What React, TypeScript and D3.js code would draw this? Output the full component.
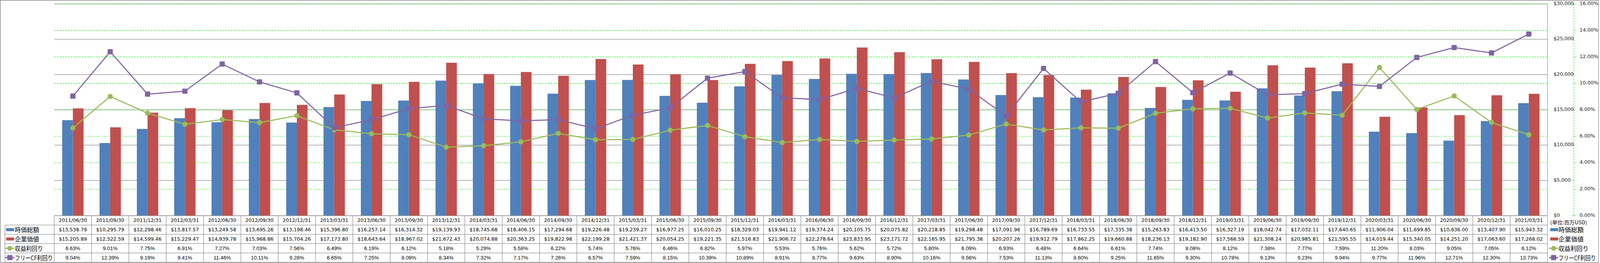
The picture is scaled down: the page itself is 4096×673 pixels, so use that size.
import * as d3 from 'd3';

const dates = [
  '2011/06/30', '2011/09/30', '2011/12/31', '2012/03/31', '2012/06/30', '2012/09/30', '2012/12/31', '2013/03/31',
  '2013/06/30', '2013/09/30', '2013/12/31', '2014/03/31', '2014/06/30', '2014/09/30', '2014/12/31', '2015/03/31',
  '2015/06/30', '2015/09/30', '2015/12/31', '2016/03/31', '2016/06/30', '2016/09/30', '2016/12/31', '2017/03/31',
  '2017/06/30', '2017/09/30', '2017/12/31', '2018/03/31', '2018/06/30', '2018/09/30', '2018/12/31', '2019/03/31',
  '2019/06/30', '2019/09/30', '2019/12/31', '2020/03/31', '2020/06/30', '2020/09/30', '2020/12/31', '2021/03/31',
];

// 時価総額 (百万USD)
const marketCap = [
  13538.79, 10295.79, 12298.46, 13817.57, 13249.58, 13695.26, 13198.46, 15396.8,
  16257.14, 16314.32, 19139.93, 18745.68, 18406.15, 17294.68, 19226.48, 19239.27,
  16977.25, 16010.25, 18329.03, 19941.12, 19374.24, 20105.75, 20075.82, 20218.85,
  19298.48, 17091.96, 16789.69, 16733.55, 17335.38, 15263.83, 16413.5, 16327.19,
  18042.74, 17032.11, 17640.65, 11906.04, 11699.85, 10636.0, 13407.9, 15943.32,
];

// 企業価値 (百万USD)
const enterpriseValue = [
  15205.89, 12522.59, 14599.46, 15229.47, 14939.78, 15968.86, 15704.26, 17173.8,
  18643.64, 18967.02, 21672.43, 20074.88, 20363.25, 19822.98, 22199.28, 21421.37,
  20054.25, 19221.35, 21516.83, 21906.72, 22278.64, 23833.95, 23171.72, 22165.95,
  21795.38, 20207.26, 19912.79, 17862.25, 19660.88, 18236.13, 19182.9, 17566.59,
  21308.24, 20985.81, 21595.55, 14019.44, 15340.05, 14251.2, 17063.6, 17268.02,
];

// 収益利回り (%)
const earningsYield = [
  6.63, 9.01, 7.75, 6.91, 7.27, 7.03, 7.56, 6.49,
  6.19, 6.12, 5.18, 5.29, 5.58, 6.22, 5.74, 5.76,
  6.46, 6.82, 5.97, 5.53, 5.76, 5.62, 5.72, 5.8,
  6.09, 6.93, 6.48, 6.64, 6.61, 7.74, 8.08, 8.12,
  7.38, 7.77, 7.59, 11.2, 8.03, 9.05, 7.05, 6.12,
];

// フリーCF利回り (%)
const fcfYield = [
  9.04, 12.39, 9.19, 9.41, 11.46, 10.11, 9.28, 6.65,
  7.25, 8.09, 8.34, 7.32, 7.17, 7.26, 6.57, 7.59,
  8.15, 10.39, 10.89, 8.91, 8.77, 9.63, 8.9, 10.16,
  9.56, 7.53, 11.13, 8.6, 9.25, 11.65, 9.3, 10.78,
  9.13, 9.23, 9.94, 9.77, 11.96, 12.71, 12.3, 13.73,
];

const dollarTicks = [0, 5000, 10000, 15000, 20000, 25000, 30000];
const pctTicks = [0, 2, 4, 6, 8, 10, 12, 14, 16];

const seriesNames = ['時価総額', '企業価値', '収益利回り', 'フリーCF利回り'];
const seriesColors = ['#4F81BD', '#C0504D', '#9BBB59', '#8064A2'];

const SCALE = 0.784;
const W = 5221;
const H = 858;
const plotL = 177;
const plotR = 5053;
const plotT = 13;
const plotB = 704;
const tableB = 856;

const CJK = "'Noto Sans CJK JP', sans-serif";
const WIDE = "'DejaVu Sans', Verdana, sans-serif";
const NUM = "'Liberation Sans', Arial, sans-serif";
const GRID = '#878787';
const BORDER = '#8f8f8f';
const GREEN_DASH = '#00ee00';

function LineKey({ x, y, color, square }: { x: number; y: number; color: string; square: boolean }) {
  return (
    <g>
      <line x1={x} x2={x + 30} y1={y} y2={y} stroke={color} strokeWidth={4} />
      {square ? (
        <rect x={x + 15 - 8.5} y={y - 8.5} width={17} height={17} rx={2.5} fill={color} />
      ) : (
        <circle cx={x + 15} cy={y} r={8} fill={color} />
      )}
    </g>
  );
}

export default function App() {
  const xCat = d3.scaleBand<string>().domain(dates).range([plotL, plotR]);
  const step = xCat.step();
  const xBar = d3.scaleBand<string>().domain(dates).range([plotL, plotR])
    .paddingInner(1.5 / 3.5).paddingOuter(0.75 / 3.5);
  const xSub = d3.scaleBand<string>().domain(['mcap', 'ev']).range([0, xBar.bandwidth()]);
  const yDollar = d3.scaleLinear().domain([0, 30000]).range([plotB, plotT]);
  const yPct = d3.scaleLinear().domain([0, 16]).range([plotB, plotT]);

  const rowKeys = ['date', 'mcap', 'ev', 'ey', 'fcf'];
  const yRow = d3.scaleBand<string>().domain(rowKeys).range([plotB, tableB]);
  const rowMid = (k: string) => (yRow(k) as number) + yRow.bandwidth() / 2;

  const cx = (d: string) => (xCat(d) as number) + step / 2;

  const lineGen = d3.line<number>()
    .x((_, i) => cx(dates[i]))
    .y((v) => yPct(v));

  const fmtDollar = d3.format('$,.2f');
  const fmtPct = (v: number) => v.toFixed(2) + '%';

  const rows: { key: string; values: string[] }[] = [
    { key: 'date', values: dates },
    { key: 'mcap', values: marketCap.map(fmtDollar) },
    { key: 'ev', values: enterpriseValue.map(fmtDollar) },
    { key: 'ey', values: earningsYield.map(fmtPct) },
    { key: 'fcf', values: fcfYield.map(fmtPct) },
  ];

  const headerLens = [79, 79, 92, 124];
  const legendLens = [82, 82, 98, 122];
  const seriesRows = ['mcap', 'ev', 'ey', 'fcf'];

  return (
    <svg
      width={W * SCALE}
      height={H * SCALE}
      viewBox={`0 0 ${W} ${H}`}
      style={{ position: 'absolute', left: 0, top: 0, background: '#fff' }}
    >
      <rect x={0} y={0} width={W} height={H} fill="#fff" />
      <rect x={1} y={1} width={W - 2} height={H - 2} fill="none" stroke={BORDER} strokeWidth={2} />

      {/* gridlines */}
      {dollarTicks.map((t) => (
        <line key={'gd' + t} x1={plotL} x2={plotR} y1={yDollar(t)} y2={yDollar(t)} stroke={GRID} strokeWidth={1.6} />
      ))}
      {pctTicks.filter((t) => t > 0).map((t) => (
        <line key={'gp' + t} x1={plotL} x2={plotR} y1={yPct(t)} y2={yPct(t)} stroke={GREEN_DASH} strokeWidth={1.4} strokeDasharray="5,4" />
      ))}

      {/* bars */}
      {dates.map((d, i) => (
        <g key={'b' + d} transform={`translate(${xBar(d)},0)`}>
          <rect x={xSub('mcap')} y={yDollar(marketCap[i])} width={xSub.bandwidth()} height={plotB - yDollar(marketCap[i])} fill={seriesColors[0]} />
          <rect x={xSub('ev')} y={yDollar(enterpriseValue[i])} width={xSub.bandwidth()} height={plotB - yDollar(enterpriseValue[i])} fill={seriesColors[1]} />
        </g>
      ))}

      {/* plot right border */}
      <line x1={plotR} x2={plotR} y1={plotT} y2={tableB} stroke={BORDER} strokeWidth={1.6} />

      {/* lines */}
      <path d={lineGen(earningsYield) as string} fill="none" stroke={seriesColors[2]} strokeWidth={3.5} strokeLinejoin="round" />
      {earningsYield.map((v, i) => (
        <circle key={'ec' + i} cx={cx(dates[i])} cy={yPct(v)} r={8.5} fill={seriesColors[2]} />
      ))}
      <path d={lineGen(fcfYield) as string} fill="none" stroke={seriesColors[3]} strokeWidth={3.5} strokeLinejoin="round" />
      {fcfYield.map((v, i) => (
        <rect key={'fr' + i} x={cx(dates[i]) - 8.5} y={yPct(v) - 8.5} width={17} height={17} rx={2.5} fill={seriesColors[3]} />
      ))}

      {/* right axes */}
      <line x1={5139} x2={5139} y1={plotT} y2={plotB} stroke={GREEN_DASH} strokeWidth={1.5} strokeDasharray="5,4" />
      {dollarTicks.map((t) => (
        <g key={'ad' + t}>
          <line x1={5134} x2={5139} y1={yDollar(t)} y2={yDollar(t)} stroke={GREEN_DASH} strokeWidth={1.5} />
          <text x={5073} y={yDollar(t) - 2} dominantBaseline="central" fontFamily={WIDE} fontSize={16} fill="#222">
            {d3.format('$,')(t)}
          </text>
        </g>
      ))}
      {pctTicks.map((t) => (
        <g key={'ap' + t}>
          <line x1={5139} x2={5144} y1={yPct(t)} y2={yPct(t)} stroke={GREEN_DASH} strokeWidth={1.5} />
          <text x={5158} y={yPct(t) - 2} dominantBaseline="central" fontFamily={WIDE} fontSize={16} fill="#222">
            {t.toFixed(2) + '%'}
          </text>
        </g>
      ))}

      {/* data table grid */}
      {rowKeys.map((k) => (
        <line key={'hl' + k} x1={k === 'date' ? plotL : 16} x2={plotR} y1={yRow(k)} y2={yRow(k)} stroke={BORDER} strokeWidth={1.6} />
      ))}
      <line x1={16} x2={plotR} y1={tableB} y2={tableB} stroke={BORDER} strokeWidth={1.6} />
      <line x1={16} x2={16} y1={yRow('mcap')} y2={tableB} stroke={BORDER} strokeWidth={1.6} />
      {dates.map((d) => (
        <line key={'vl' + d} x1={xCat(d)} x2={xCat(d)} y1={plotB} y2={tableB} stroke={BORDER} strokeWidth={1.6} />
      ))}

      {/* table cells */}
      {rows.map((r) => (
        <g key={'row' + r.key}>
          {r.values.map((v, i) => (
            <text
              key={r.key + i}
              x={cx(dates[i])}
              y={rowMid(r.key)}
              textAnchor="middle"
              dominantBaseline="central"
              fontFamily={r.key === 'ey' || r.key === 'fcf' ? NUM : WIDE}
              fontSize={r.key === 'ey' || r.key === 'fcf' ? 17 : 16}
              fill="#000"
            >
              {v}
            </text>
          ))}
        </g>
      ))}

      {/* table row headers */}
      {seriesRows.map((k, i) => (
        <g key={'hdr' + k}>
          {i < 2 ? (
            <rect x={20} y={rowMid(k) - 5} width={26} height={10} fill={seriesColors[i]} />
          ) : (
            <LineKey x={17} y={rowMid(k)} color={seriesColors[i]} square={i === 3} />
          )}
          <text
            x={48.5}
            y={rowMid(k)}
            dominantBaseline="central"
            fontFamily={CJK}
            fontSize={20}
            textLength={headerLens[i]}
            lengthAdjust="spacingAndGlyphs"
            fill="#000"
          >
            {seriesNames[i]}
          </text>
        </g>
      ))}

      {/* right legend */}
      <text x={5062} y={725} dominantBaseline="central" fontFamily={CJK} fontSize={16} textLength={120} lengthAdjust="spacingAndGlyphs" fill="#000">
        (単位:百万USD)
      </text>
      {seriesRows.map((k, i) => (
        <g key={'lg' + k}>
          {i < 2 ? (
            <rect x={5062} y={rowMid(k) - 5} width={26} height={10} fill={seriesColors[i]} />
          ) : (
            <LineKey x={5058} y={rowMid(k)} color={seriesColors[i]} square={i === 3} />
          )}
          <text
            x={5089}
            y={rowMid(k)}
            dominantBaseline="central"
            fontFamily={CJK}
            fontSize={20}
            textLength={legendLens[i]}
            lengthAdjust="spacingAndGlyphs"
            fill="#000"
          >
            {seriesNames[i]}
          </text>
        </g>
      ))}
    </svg>
  );
}
